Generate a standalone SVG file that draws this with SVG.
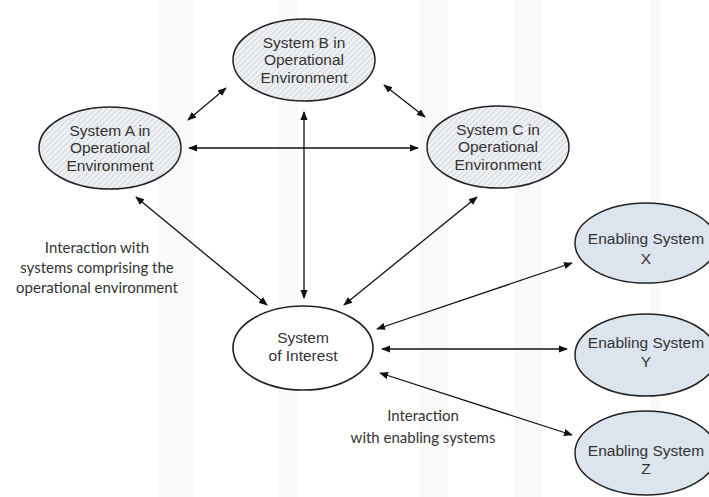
<svg xmlns="http://www.w3.org/2000/svg" width="709" height="497" viewBox="0 0 709 497">
<defs>
<pattern id="hatch" width="4" height="4" patternUnits="userSpaceOnUse" patternTransform="rotate(45)">
<rect width="4" height="4" fill="#eef0f3"/>
<line x1="0" y1="0" x2="0" y2="4" stroke="#c3c8cf" stroke-width="1.2"/>
</pattern>
<marker id="ah" viewBox="0 0 10 10" refX="9" refY="5" markerWidth="9" markerHeight="9" markerUnits="userSpaceOnUse" orient="auto-start-reverse">
<path d="M0,1 L10,5 L0,9 Z" fill="#111"/>
</marker>
<style>
.env{fill:url(#hatch);stroke:#222;stroke-width:1.5}
.soi{fill:#ffffff;stroke:#222;stroke-width:1.6}
.en{fill:#dce4ee;stroke:#222;stroke-width:1.5}
.nt{font-family:"Liberation Sans",Arial,sans-serif;font-size:15.5px;fill:#333;text-anchor:middle}
.lb{font-family:Lato,"Open Sans",sans-serif;font-size:15px;fill:#333;text-anchor:middle}
.cn line{stroke:#111;stroke-width:1.3;marker-start:url(#ah);marker-end:url(#ah)}
.band{fill:#f9f9f9}
</style>
</defs>
<rect width="709" height="497" fill="#ffffff"/>
<g id="background">
<rect class="band" x="158" y="0" width="36" height="497"/>
<rect class="band" x="278" y="0" width="20" height="497"/>
<rect class="band" x="420" y="0" width="28" height="497"/>
<rect class="band" x="515" y="0" width="27" height="497"/>
<rect class="band" x="651" y="0" width="9" height="497"/>
</g>
<g id="connectors" class="cn">
<line x1="188" y1="120" x2="226" y2="88"/>
<line x1="384" y1="85" x2="425" y2="117"/>
<line x1="189" y1="148" x2="418" y2="148"/>
<line x1="304" y1="112" x2="304" y2="298"/>
<line x1="136" y1="197" x2="267" y2="305"/>
<line x1="477" y1="197" x2="344" y2="305"/>
<line x1="377" y1="329" x2="572" y2="263"/>
<line x1="382" y1="349" x2="567" y2="349"/>
<line x1="380" y1="373" x2="572" y2="435"/>
</g>
<g id="systemB">
<ellipse class="env" cx="304" cy="60" rx="71" ry="41"/>
<text class="nt" x="304" y="47.5">System B in</text>
<text class="nt" x="304" y="65">Operational</text>
<text class="nt" x="304" y="82.5">Environment</text>
</g>
<g id="systemA">
<ellipse class="env" cx="110" cy="148" rx="71" ry="41"/>
<text class="nt" x="110" y="135.5">System A in</text>
<text class="nt" x="110" y="153">Operational</text>
<text class="nt" x="110" y="170.5">Environment</text>
</g>
<g id="systemC">
<ellipse class="env" cx="498" cy="147" rx="71" ry="41"/>
<text class="nt" x="498" y="134.5">System C in</text>
<text class="nt" x="498" y="152">Operational</text>
<text class="nt" x="498" y="169.5">Environment</text>
</g>
<g id="systemOfInterest">
<ellipse class="soi" cx="303" cy="348" rx="70" ry="42"/>
<text class="nt" x="303" y="343">System</text>
<text class="nt" x="303" y="361">of Interest</text>
</g>
<g id="enablingX">
<ellipse class="en" cx="646" cy="243" rx="71" ry="40"/>
<text class="nt" x="646" y="244">Enabling System</text>
<text class="nt" x="646" y="264">X</text>
</g>
<g id="enablingY">
<ellipse class="en" cx="646" cy="355" rx="71" ry="41"/>
<text class="nt" x="646" y="348">Enabling System</text>
<text class="nt" x="646" y="367">Y</text>
</g>
<g id="enablingZ">
<ellipse class="en" cx="646" cy="453" rx="71" ry="42"/>
<text class="nt" x="646" y="456">Enabling System</text>
<text class="nt" x="646" y="474">Z</text>
</g>
<g id="labels">
<text class="lb" x="97" y="253">Interaction with</text>
<text class="lb" x="97" y="273">systems comprising the</text>
<text class="lb" x="97" y="293">operational environment</text>
<text class="lb" x="423" y="421">Interaction</text>
<text class="lb" x="423" y="443">with enabling systems</text>
</g>
</svg>
